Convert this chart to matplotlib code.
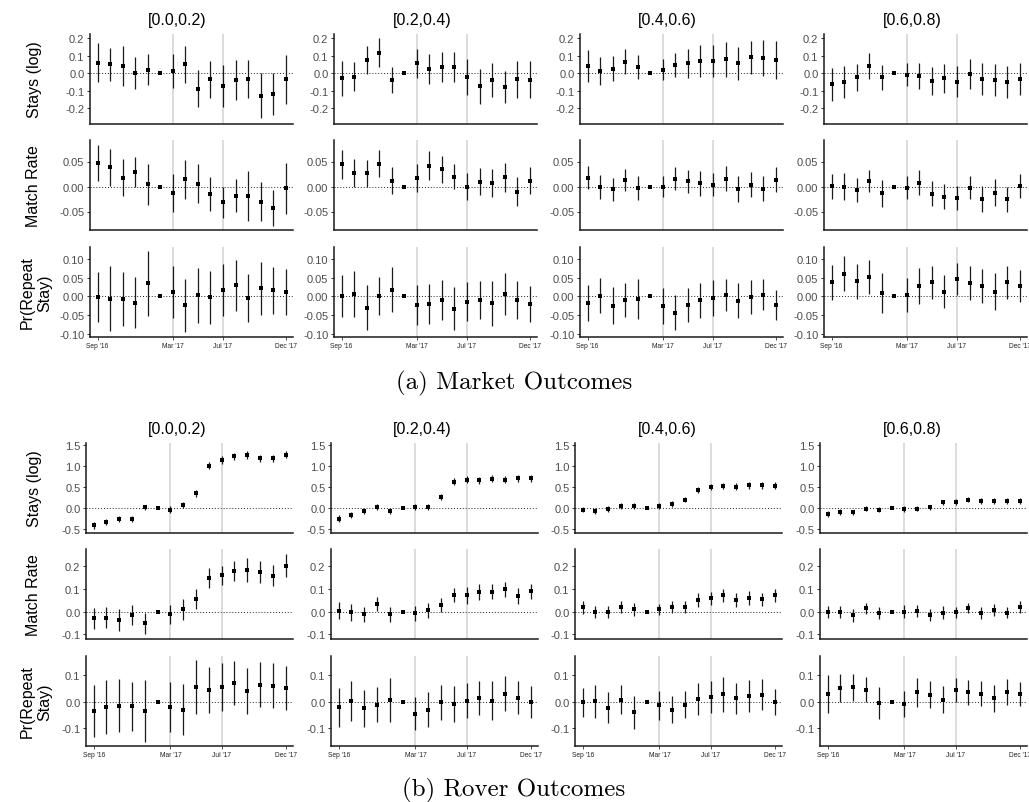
import matplotlib
matplotlib.use("Agg")
import matplotlib.pyplot as plt
import numpy as np

plt.rcParams["font.family"] = ["Liberation Sans", "DejaVu Sans"]
plt.rcParams["axes.unicode_minus"] = False

# ---------------- data ----------------
months = ["Sep '16", "Oct '16", "Nov '16", "Dec '16", "Jan '17", "Feb '17",
          "Mar '17", "Apr '17", "May '17", "Jun '17", "Jul '17", "Aug '17",
          "Sep '17", "Oct '17", "Nov '17", "Dec '17"]
xtick_months = ["Sep '16", "Mar '17", "Jul '17", "Dec '17"]
event_months = ["Mar '17", "Jul '17"]
groups = ["[0.0,0.2)", "[0.2,0.4)", "[0.4,0.6)", "[0.6,0.8)"]
outcomes = ["Stays (log)", "Match Rate", "Pr(Repeat\nStay)"]
panel_captions = ["(a) Market Outcomes", "(b) Rover Outcomes"]

# Market outcomes: point estimates and CI half-widths, one list per group
market_stays_est = [
    [0.06, 0.05, 0.04, 0.0, 0.02, 0, 0.01, 0.05, -0.09, -0.035, -0.075, -0.04, -0.035, -0.13, -0.12, -0.035],
    [-0.03, -0.02, 0.075, 0.115, -0.04, 0, 0.055, 0.025, 0.035, 0.035, -0.025, -0.075, -0.04, -0.08, -0.035, -0.038],
    [0.04, 0.01, 0.025, 0.065, 0.035, 0, 0.02, 0.045, 0.055, 0.07, 0.07, 0.08, 0.055, 0.09, 0.085, 0.075],
    [-0.065, -0.05, -0.025, 0.04, -0.025, 0, -0.01, -0.015, -0.045, -0.03, -0.05, -0.005, -0.035, -0.04, -0.05, -0.035],
]
market_stays_hw = [
    [0.112, 0.095, 0.112, 0.092, 0.088, 0, 0.098, 0.105, 0.105, 0.105, 0.12, 0.112, 0.108, 0.128, 0.122, 0.14],
    [0.1, 0.085, 0.078, 0.083, 0.073, 0, 0.083, 0.085, 0.085, 0.085, 0.103, 0.1, 0.095, 0.093, 0.105, 0.105],
    [0.09, 0.08, 0.072, 0.072, 0.068, 0, 0.06, 0.07, 0.082, 0.09, 0.09, 0.1, 0.095, 0.095, 0.102, 0.108],
    [0.092, 0.09, 0.075, 0.075, 0.072, 0, 0.065, 0.075, 0.08, 0.082, 0.088, 0.085, 0.092, 0.09, 0.092, 0.092],
]
market_match_est = [
    [0.047, 0.039, 0.018, 0.029, 0.005, 0, -0.013, 0.015, 0.006, -0.014, -0.031, -0.018, -0.018, -0.03, -0.043, -0.003],
    [0.045, 0.028, 0.027, 0.046, 0.012, 0, 0.017, 0.042, 0.035, 0.02, 0.0, 0.01, 0.008, 0.019, -0.01, 0.012],
    [0.018, 0.0, -0.005, 0.014, -0.003, 0, 0.0, 0.016, 0.011, 0.007, 0.004, 0.016, -0.005, 0.004, -0.004, 0.014],
    [0.001, 0.0, -0.007, 0.012, -0.013, 0, -0.002, 0.008, -0.014, -0.02, -0.022, -0.002, -0.025, -0.012, -0.025, 0.002],
]
market_match_hw = [
    [0.036, 0.037, 0.037, 0.03, 0.041, 0, 0.038, 0.039, 0.039, 0.034, 0.031, 0.033, 0.05, 0.039, 0.036, 0.051],
    [0.029, 0.028, 0.027, 0.027, 0.027, 0, 0.028, 0.029, 0.027, 0.025, 0.027, 0.027, 0.028, 0.029, 0.029, 0.027],
    [0.023, 0.024, 0.023, 0.022, 0.024, 0, 0.021, 0.023, 0.023, 0.025, 0.023, 0.025, 0.026, 0.025, 0.025, 0.025],
    [0.025, 0.027, 0.024, 0.022, 0.027, 0, 0.023, 0.025, 0.025, 0.025, 0.024, 0.023, 0.026, 0.027, 0.025, 0.024],
]
market_repeat_est = [
    [-0.002, -0.006, -0.007, -0.017, 0.035, 0, 0.012, -0.024, 0.003, -0.002, 0.017, 0.029, -0.004, 0.021, 0.016, 0.011],
    [0.0, 0.006, -0.031, 0.001, 0.018, 0, -0.023, -0.021, -0.01, -0.033, -0.014, -0.01, -0.019, 0.006, -0.01, -0.021],
    [-0.018, 0.002, -0.025, -0.01, -0.007, 0, -0.026, -0.044, -0.024, -0.011, -0.005, 0.003, -0.012, -0.002, 0.004, -0.024],
    [0.038, 0.06, 0.04, 0.051, 0.008, 0, 0.004, 0.028, 0.037, 0.012, 0.046, 0.035, 0.027, 0.012, 0.038, 0.028],
]
market_repeat_hw = [
    [0.066, 0.088, 0.072, 0.069, 0.087, 0, 0.069, 0.071, 0.074, 0.071, 0.07, 0.068, 0.065, 0.07, 0.063, 0.062],
    [0.056, 0.061, 0.06, 0.05, 0.061, 0, 0.054, 0.054, 0.053, 0.057, 0.053, 0.052, 0.061, 0.056, 0.05, 0.048],
    [0.048, 0.046, 0.049, 0.046, 0.053, 0, 0.048, 0.047, 0.046, 0.046, 0.048, 0.043, 0.047, 0.045, 0.042, 0.04],
    [0.047, 0.047, 0.047, 0.045, 0.054, 0, 0.046, 0.049, 0.043, 0.044, 0.042, 0.045, 0.045, 0.05, 0.044, 0.042],
]

# Rover outcomes
rover_stays_est = [
    [-0.42, -0.33, -0.27, -0.27, 0.01, 0, -0.04, 0.07, 0.35, 1.01, 1.15, 1.23, 1.26, 1.18, 1.18, 1.27],
    [-0.26, -0.17, -0.08, 0.03, -0.08, 0, 0.02, 0.03, 0.27, 0.63, 0.67, 0.66, 0.70, 0.67, 0.71, 0.71],
    [-0.04, -0.07, -0.03, 0.04, 0.04, 0, 0.05, 0.09, 0.20, 0.43, 0.50, 0.52, 0.51, 0.54, 0.54, 0.53],
    [-0.14, -0.10, -0.11, -0.02, -0.04, 0, -0.03, -0.02, 0.01, 0.13, 0.14, 0.20, 0.17, 0.17, 0.16, 0.17],
]
rover_stays_hw = [
    [0.08, 0.07, 0.07, 0.07, 0.07, 0, 0.075, 0.08, 0.08, 0.09, 0.09, 0.09, 0.09, 0.09, 0.09, 0.09],
    [0.08, 0.07, 0.07, 0.07, 0.07, 0, 0.07, 0.07, 0.07, 0.08, 0.08, 0.08, 0.08, 0.08, 0.08, 0.08],
    [0.07, 0.07, 0.07, 0.07, 0.07, 0, 0.07, 0.07, 0.07, 0.08, 0.08, 0.08, 0.08, 0.08, 0.08, 0.08],
    [0.07, 0.065, 0.065, 0.065, 0.065, 0, 0.065, 0.065, 0.065, 0.07, 0.07, 0.07, 0.07, 0.07, 0.07, 0.07],
]
rover_match_est = [
    [-0.03, -0.028, -0.037, -0.015, -0.052, 0, -0.012, 0.01, 0.055, 0.147, 0.158, 0.177, 0.183, 0.172, 0.157, 0.2],
    [0.003, -0.003, -0.012, 0.033, -0.013, 0, -0.008, 0.006, 0.03, 0.073, 0.07, 0.085, 0.087, 0.097, 0.068, 0.088],
    [0.018, -0.004, -0.003, 0.02, 0.01, 0, 0.01, 0.02, 0.02, 0.05, 0.057, 0.071, 0.05, 0.06, 0.053, 0.07],
    [-0.003, -0.003, -0.017, 0.014, -0.007, 0, 0.0, 0.003, -0.015, -0.005, -0.004, 0.017, -0.007, 0.006, -0.005, 0.02],
]
rover_match_hw = [
    [0.045, 0.046, 0.05, 0.045, 0.047, 0, 0.042, 0.045, 0.045, 0.045, 0.042, 0.042, 0.052, 0.047, 0.047, 0.05],
    [0.037, 0.037, 0.033, 0.032, 0.032, 0, 0.032, 0.033, 0.03, 0.031, 0.035, 0.033, 0.031, 0.033, 0.034, 0.032],
    [0.027, 0.026, 0.027, 0.027, 0.029, 0, 0.025, 0.025, 0.025, 0.03, 0.028, 0.029, 0.029, 0.03, 0.027, 0.03],
    [0.026, 0.027, 0.027, 0.025, 0.027, 0, 0.027, 0.026, 0.025, 0.027, 0.025, 0.022, 0.027, 0.026, 0.025, 0.025],
]
rover_repeat_est = [
    [-0.035, -0.02, -0.015, -0.018, -0.035, 0, -0.02, -0.03, 0.054, 0.045, 0.055, 0.07, 0.039, 0.064, 0.06, 0.052],
    [-0.021, 0.004, -0.025, -0.012, 0.006, 0, -0.045, -0.03, -0.003, -0.009, 0.004, 0.013, 0.004, 0.03, 0.014, 0.0],
    [-0.003, 0.001, -0.022, 0.008, -0.04, 0, -0.013, -0.03, -0.011, 0.01, 0.019, 0.027, 0.012, 0.022, 0.026, -0.001],
    [0.029, 0.051, 0.054, 0.044, -0.005, 0, -0.009, 0.035, 0.026, 0.008, 0.043, 0.035, 0.029, 0.012, 0.037, 0.029],
]
rover_repeat_hw = [
    [0.098, 0.1, 0.1, 0.093, 0.115, 0, 0.095, 0.096, 0.102, 0.086, 0.089, 0.084, 0.086, 0.085, 0.083, 0.083],
    [0.072, 0.075, 0.07, 0.066, 0.082, 0, 0.061, 0.065, 0.066, 0.067, 0.066, 0.063, 0.074, 0.066, 0.062, 0.06],
    [0.053, 0.061, 0.057, 0.054, 0.062, 0, 0.054, 0.05, 0.052, 0.059, 0.06, 0.064, 0.057, 0.06, 0.059, 0.048],
    [0.07, 0.054, 0.051, 0.047, 0.059, 0, 0.05, 0.054, 0.05, 0.05, 0.046, 0.046, 0.047, 0.052, 0.048, 0.045],
]

market_yticks = [[-0.2, -0.1, 0.0, 0.1, 0.2], [-0.05, 0.0, 0.05], [-0.10, -0.05, 0.0, 0.05, 0.10]]
market_ylabels = [["-0.2", "-0.1", "0.0", "0.1", "0.2"], ["-0.05", "0.00", "0.05"],
                  ["-0.10", "-0.05", "0.00", "0.05", "0.10"]]
rover_yticks = [[-0.5, 0.0, 0.5, 1.0, 1.5], [-0.1, 0.0, 0.1, 0.2], [-0.1, 0.0, 0.1]]
rover_ylabels = [["-0.5", "0.0", "0.5", "1.0", "1.5"], ["-0.1", "0.0", "0.1", "0.2"],
                 ["-0.1", "0.0", "0.1"]]

# ---------------- layout (pixels) ----------------
W, H = 1029, 803
fig = plt.figure(figsize=(W / 100, H / 100), dpi=100)

market_ylim = [(-0.291, 0.223), (-0.087, 0.093), (-0.109, 0.132)]
rover_ylim = [(-0.60, 1.55), (-0.12, 0.273), (-0.166, 0.171)]


def px_axes(left, top, width, height):
    return fig.add_axes([left / W, 1 - (top + height) / H, width / W, height / H])


def draw(ax, est, hw, ylim, yticks, ylabels, show_x):
    x = np.arange(len(months))
    est = np.array(est)
    hw = np.array(hw)
    for m in event_months:
        ax.axvline(months.index(m), color="#d9d9d9", lw=1.3, zorder=0)
    ax.axhline(0, color="#222222", lw=0.7, ls=(0, (1, 2)), zorder=1)
    mask = hw > 0
    ax.vlines(x[mask], est[mask] - hw[mask], est[mask] + hw[mask], color="#1a1a1a", lw=0.9, zorder=2)
    ax.plot(x, est, "s", color="black", ms=2.3, mew=0, zorder=3)
    ax.set_xlim(-0.6, 15.58)
    ax.set_ylim(*ylim)
    ax.set_yticks(yticks)
    ax.set_yticklabels(ylabels)
    ax.spines["top"].set_visible(False)
    ax.spines["right"].set_visible(False)
    for s in ("left", "bottom"):
        ax.spines[s].set_linewidth(1.1)
        ax.spines[s].set_color("#1a1a1a")
    ax.tick_params(axis="y", length=2.5, width=0.7, color="#333333", labelsize=8,
                   labelcolor="#4d4d4d", pad=1.5)
    ticks = [months.index(m) for m in xtick_months]
    ax.set_xticks(ticks)
    if show_x:
        ax.set_xticklabels(xtick_months)
        ax.tick_params(axis="x", length=2, width=0.6, color="#333333", labelsize=4.8,
                       labelcolor="#222222", pad=1.5)
    else:
        ax.set_xticklabels([])
        ax.tick_params(axis="x", length=0)
    ax.patch.set_alpha(0)


panels = [
    dict(est=[market_stays_est, market_match_est, market_repeat_est],
         hw=[market_stays_hw, market_match_hw, market_repeat_hw],
         ylim=market_ylim, yticks=market_yticks, ylabels=market_ylabels,
         lefts=[90, 334, 580, 824], width=203, tops=[35, 141, 248], height=90,
         title_y=20, caption_base=389),
    dict(est=[rover_stays_est, rover_match_est, rover_repeat_est],
         hw=[rover_stays_hw, rover_match_hw, rover_repeat_hw],
         ylim=rover_ylim, yticks=rover_yticks, ylabels=rover_ylabels,
         lefts=[86, 331, 575, 820], width=207, tops=[444, 550, 657], height=90,
         title_y=430, caption_base=796),
]
title_x = [177.5, 422.5, 667, 912.5]

for p, cap in zip(panels, panel_captions):
    for r in range(3):
        for c in range(4):
            ax = px_axes(p["lefts"][c], p["tops"][r], p["width"], p["height"])
            draw(ax, p["est"][r][c], p["hw"][r][c], p["ylim"][r], p["yticks"][r],
                 p["ylabels"][r], show_x=(r == 2))
        yc = p["tops"][r] + p["height"] / 2
        fig.text((34 if r < 2 else 36) / W, 1 - yc / H, outcomes[r], rotation=90,
                 ha="center", va="center", fontsize=11.5, multialignment="center")
    for c in range(4):
        fig.text(title_x[c] / W, 1 - p["title_y"] / H, groups[c], ha="center", va="center",
                 fontsize=11.5)
    fig.text(514 / W, 1 - p["caption_base"] / H, cap, ha="center", va="baseline",
             fontsize=18, family="cmr10")

fig.savefig("out.png", dpi=100, facecolor="white")
